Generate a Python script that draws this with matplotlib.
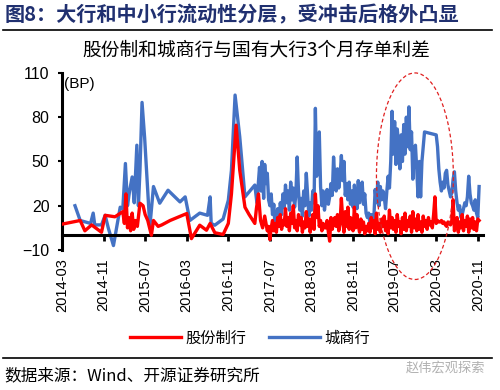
import numpy as np
import matplotlib
matplotlib.use("Agg")
import matplotlib.pyplot as plt
import matplotlib.transforms as mtransforms
from matplotlib.patches import Ellipse

plt.rcParams['font.family'] = ['Noto Sans CJK SC', 'DejaVu Sans']

# x positions are months since 2014-03
xtick_pos = [0, 8, 16, 24, 32, 40, 48, 56, 64, 72, 80]
xtick_labels = ["2014-03", "2014-11", "2015-07", "2016-03", "2016-11", "2017-07",
                "2018-03", "2018-11", "2019-07", "2020-03", "2020-11"]
yticks = [-10, 20, 50, 80, 110]

# 股份制行 - sparse early part
red_m = [0, 3.5, 4.4, 5.7, 7.6, 8.3, 10.2, 11.7, 12.0, 12.3, 12.6, 12.9, 13.2, 13.5, 13.8,
         14.1, 14.5, 15.0, 15.6, 16.0, 16.5, 17.2, 17.6, 18.5, 19.2, 20.8, 24.0, 24.9, 26.5, 27.8,
         28.5, 29.4, 31.0, 32.0, 32.6, 33.5, 34.2, 35.2, 36.0, 37.1, 37.4, 37.8, 38.2, 38.6, 39.0]
red_v = [7.5, 10, 3, 7, 2, 13.5, 12.5, 16, 8, 28, 5, 12, 3, 15, 4,
         10, 6, 21.7, 20, 14, 10, 0, 10, 6, 7, 10, 14.7, -2.3, 6.8, 3.4,
         8, 1.7, 0.5, 8, 28, 74.6, 44, 19, 14, 8, 18, 28, 10, 5, 13]
# 股份制行 - weekly from 2017-06 (month 39.25)
red_week = [8, 3, 6,
            -3, 5, 10, 3,  8, 2, 12, 6,  14, 4, 10, 7,  18, 6, 12, 3,  15, 8, 20, 5,
            10, 3, 14, 7,  12, 2, 9, 5,  16, 6, 11, 2,  9, 14, 4, 28,  12, 20, 6, 10,
            3, 8, 5, 5,  10, 2, -4, 12,  4, 9, 12, 6,  14, 3, 8, 25,  11, 2, 16, 6,
            19, 4, 12, 8,  3, 19, 5, 14,  7, 2, 11, 4,  9, 1, 6, 3,  8, 2, 12, 5,
            10, 1, 15, 4,  8, 2, 11, 6,  13, 3, 9, 1,  17, 5, 12, 4,  10, 2, 14, 6,
            9, 1, 12, 4,  15, 3, 10, 6,  13, 2, 16, 5,  11, 3, 14, 4,  9, 2, 13, 6,
            10, 4, 12, 7,  9, 5, 14, 26,  8, 10, 9, 9,  10, 8, 9, 7,  6, 9, 8, 7,
            10, 24, 3, 8,  12, 2, 9, 5,  14, 3, 10, 6,  13, 2, 11, 5,  12, 4, 9, 3,
            11, 10]

# 城商行 - sparse early part
blue_m = [2.5, 3.5, 5.5, 6.0, 6.3, 7.6, 8.3, 8.9, 9.9, 11.2, 11.7, 12.2, 12.6, 13.0, 13.5,
          13.9, 14.4, 14.7, 15.0, 15.4, 15.9, 16.9, 17.6, 18.8, 20.4, 21.7, 22.7, 23.7, 24.6, 26.5,
          28.0, 28.5, 28.7, 29.4, 31.0, 32.0, 32.6, 33.3, 34.2, 35.2, 37.1, 37.5, 38.0, 38.3, 38.5,
          38.8, 39.0]
blue_v = [20, 10, 8, 15, 7, 7, 13.5, 5, -7, 19, 18, 48.6, 20, 30, 39.5,
          22, 61, 20, 44, 90, 66, 5.6, 33, 21.7, 30.5, 26, 22.6, 26, 10, 15,
          13.5, 26, 8, 6.8, 11, 23.7, 44, 95, 66.6, 26, 34, 22, 46, 30, 50,
          25, 48]
# 城商行 - weekly from month 39.25 to 69.75, then from month 72
blue_week1 = [35, 42, 24,
              20, 28, 14, 21,  6, 12, 18, 9,  22, 14, 28, 19,  34, 22, 30, 17,  36, 24, 32, 19,
              28, 53, 30, 17,  25, 13, 30, 20,  42, 27, 13, 22,  17, 30, 22, 86,  40, 60, 70, 33,
              20, 30, 17, 25,  31, 21, 26, 35,  27, 53, 38, 30,  45, 32, 40, 54,  37, 50, 27, 35,
              24, 36, 21, 30,  19, 34, 25, 18,  37, 22, 30, 36,  21, 28, 15, 12,  15, 8, 14, 10,
              12, 31, 22, 36,  20, 33, 24, 30,  26, 18, 30, 40,  32, 50, 84, 55,  77, 48, 72, 62,
              45, 68, 50, 75,  55, 80, 60, 87,  58, 70, 38, 55,  61, 45, 26, 50,  26, 50, 60, 70]
blue_week2 = [68, 60, 45, 36,  30, 36, 32, 42,  44, 34, 30, 26,  29, 38, 43, 30,
              22, 17, 20, 12,  14, 18, 22, 20,  26, 40, 28, 22,  20, 17, 24, 15,
              12, 33]

red_x = np.concatenate([red_m, 39.25 + 0.25 * np.arange(len(red_week))])
red_y = np.concatenate([red_v, red_week])
blue_x = np.concatenate([blue_m, 39.25 + 0.25 * np.arange(len(blue_week1)),
                         72.0 + 0.25 * np.arange(len(blue_week2))])
blue_y = np.concatenate([blue_v, blue_week1, blue_week2])

fig = plt.figure(figsize=(5, 3.9), dpi=100)
ax = fig.add_axes([0.124, 0.359, 0.842, 0.454])

l1, = ax.plot(red_x, red_y, color='#FF0000', lw=2.4, label='股份制行', zorder=3)
l2, = ax.plot(blue_x, blue_y, color='#4472C4', lw=2.4, label='城商行', zorder=2)

ax.set_xlim(0, 81)
ax.set_ylim(-10, 110)
ax.set_yticks(yticks)
ax.tick_params(axis='y', labelsize=11.5, length=3, width=1.5, direction='out', pad=6)
for lab in ax.get_yticklabels():
    lab.set_family(['Liberation Sans', 'DejaVu Sans'])

ax.spines['top'].set_visible(False)
ax.spines['right'].set_visible(False)
ax.spines['left'].set_linewidth(2.2)
ax.spines['bottom'].set_position(('data', 0))
ax.spines['bottom'].set_linewidth(2.2)
ax.set_xticks(xtick_pos)
ax.tick_params(axis='x', length=4, width=2, direction='out', labelbottom=False)

trans = mtransforms.blended_transform_factory(ax.transData, ax.transAxes)
for p, lab in zip(xtick_pos, xtick_labels):
    ax.text(p, -0.045, lab, transform=trans, rotation=90, ha='center', va='top',
            fontsize=10.5, family=['Liberation Sans', 'DejaVu Sans'])

ax.text(0.005, 0.975, '(BP)', transform=ax.transAxes, ha='left', va='top',
        fontsize=11, family=['Liberation Sans', 'DejaVu Sans'])

# highlight circle
ell = Ellipse((67.9, 40), 14.8, 140, fill=False, edgecolor='#E02020', lw=0.9,
              ls=(0, (3, 2)), clip_on=False, zorder=4)
ax.add_patch(ell)

fig.text(0.01, 0.962, '图8：大行和中小行流动性分层，受冲击后格外凸显', fontsize=14.5,
         fontweight='bold', color='#203070', ha='left', va='center')
fig.add_artist(plt.Line2D([0.006, 0.984], [0.922, 0.922], color='black', lw=1.2))
fig.text(0.512, 0.872, '股份制和城商行与国有大行3个月存单利差', fontsize=13.5,
         ha='center', va='center', color='black')

fig.legend(handles=[l1, l2], loc='center', bbox_to_anchor=(0.5, 0.133), ncol=2,
           frameon=False, fontsize=11, handlelength=3.3, handletextpad=0.3,
           columnspacing=1.5)

fig.add_artist(plt.Line2D([0.006, 0.984], [0.082, 0.082], color='black', lw=1.2))
fig.text(0.008, 0.036, '数据来源：Wind、开源证券研究所', fontsize=12, ha='left', va='center',
         family=['Noto Sans CJK SC', 'DejaVu Sans'])
fig.text(0.97, 0.055, '赵伟宏观探索', fontsize=9.5, ha='right', va='center', color='#b0b0b0')

fig.savefig('out.png', dpi=100)
